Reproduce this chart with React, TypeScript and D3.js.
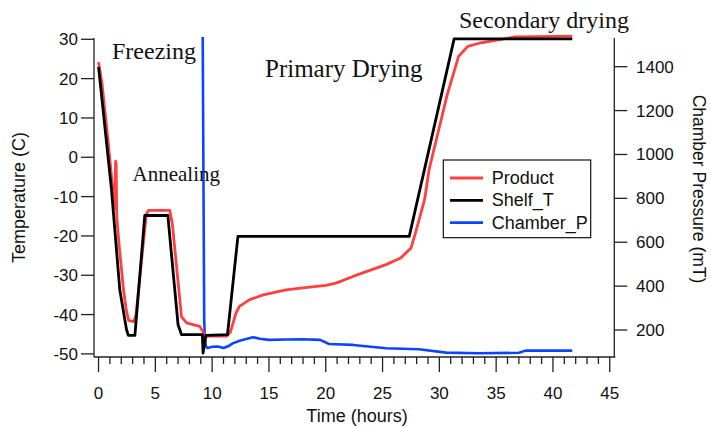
import React from "react";
import * as d3 from "d3";

// ---- data ----
const shelfTime = [0, 1.14, 1.87, 2.46, 2.62, 3.2, 4.07, 6.1, 7.0, 7.3, 9.14, 9.2, 9.45, 11.35, 12.27, 27.35, 31.3, 41.7];
const shelfTemp = [23, -8.2, -33.7, -43.8, -45.3, -45.3, -14.8, -14.8, -42.6, -45.1, -45.1, -49.8, -45.3, -45.1, -20.1, -20.1, 30.1, 30.1];

const productTime = [0, 0.3, 0.8, 1.28, 1.42, 1.5, 1.55, 1.6, 1.8, 2.2, 2.45, 2.65, 3.1, 3.3, 4.2, 4.4, 6.27, 6.5, 7.3, 7.75, 8.9, 9.35, 9.5, 11.3, 11.6, 12.1, 12.4, 13.3, 14.5, 16.5, 18, 20, 20.9, 22.4, 25.3, 26.6, 27.5, 27.9, 28.7, 29.1, 30.7, 31.7, 32.5, 33.5, 34.4, 36.7, 41.7];
const productTemp = [24.2, 18.9, 5.2, -9, -13, -1, -1.5, -15, -22, -33.7, -39, -41.5, -41.8, -40, -14.5, -13.5, -13.5, -17, -40.5, -42.1, -43, -45.1, -45.5, -45.5, -44.5, -39.6, -37.9, -36.2, -35, -33.7, -33.2, -32.6, -32, -30.3, -27.3, -25.6, -23.1, -19.2, -10.8, -3.1, 16, 25.7, 28.2, 29, 29.5, 30.6, 30.8];

const pressTime = [9.17, 9.3, 9.35, 9.45, 9.6, 10, 10.5, 11, 11.5, 11.8, 12.5, 13.6, 14.2, 15, 16.5, 18, 19.5, 20.3, 22.4, 25.3, 28.2, 30.6, 33.5, 37, 37.6, 41.7];
const pressVal = [1535, 250, 170, 125, 118, 124, 125, 118, 128, 139, 152, 167, 160, 155, 157, 158, 155, 136, 132, 117, 112, 97, 94, 96, 106, 106];

const xMajorTicks = [0, 5, 10, 15, 20, 25, 30, 35, 40, 45];
const leftTicks = [-50, -40, -30, -20, -10, 0, 10, 20, 30];
const rightTicks = [200, 400, 600, 800, 1000, 1200, 1400];

const seriesNames = ["Product", "Shelf_T", "Chamber_P"];
const seriesColors = ["#ff4040", "#000000", "#0a46ff"];

const annotations = [
  { text: "Freezing", x: 112, y: 59, size: 24 },
  { text: "Annealing", x: 132.5, y: 180.5, size: 21 },
  { text: "Primary Drying", x: 265, y: 77, size: 25 },
  { text: "Secondary drying", x: 459, y: 28, size: 24 },
];

export default function App() {
  const W = 711, H = 427;
  const left = 94, right = 614.3, top = 38, bottom = 357;
  const x = d3.scaleLinear().domain([-0.4, 45.4]).range([left, right]);
  const yL = d3.scaleLinear().domain([-50, 30]).range([353.9, 39.3]);
  const yR = d3.scaleLinear().domain([200, 1400]).range([330, 66.7]);

  const lineL = d3.line<[number, number]>().x((d) => x(d[0])).y((d) => yL(d[1]));
  const lineR = d3.line<[number, number]>().x((d) => x(d[0])).y((d) => yR(d[1]));

  const product = productTime.map((t, i) => [t, productTemp[i]] as [number, number]);
  const shelf = shelfTime.map((t, i) => [t, shelfTemp[i]] as [number, number]);
  const press = pressTime.map((t, i) => [t, pressVal[i]] as [number, number]);

  const minor = d3.range(0, 46, 1);
  const sans = "'Liberation Sans', Arial, sans-serif";
  const serif = "'Liberation Serif', 'Times New Roman', serif";

  return (
    <svg width={W} height={H} style={{ position: "absolute", left: 0, top: 0, background: "#fff" }}>
      {/* axes lines */}
      <g stroke="#222" strokeWidth={1.3} fill="none">
        <line x1={left} y1={top} x2={left} y2={bottom} />
        <line x1={right} y1={top} x2={right} y2={bottom} />
        <line x1={left} y1={bottom} x2={right + 1} y2={bottom} />
        {leftTicks.map((v) => (
          <line key={"lt" + v} x1={left - 13} x2={left} y1={yL(v)} y2={yL(v)} />
        ))}
        {rightTicks.map((v) => (
          <line key={"rt" + v} x1={right} x2={right + 13} y1={yR(v)} y2={yR(v)} />
        ))}
        {minor.map((v) => (
          <line key={"mt" + v} x1={x(v)} x2={x(v)} y1={bottom} y2={bottom + (v % 5 === 0 ? 15 : 7)} />
        ))}
      </g>
      <g fontFamily={sans} fontSize={17} fill="#111">
        {leftTicks.map((v) => (
          <text key={"ll" + v} x={78} y={yL(v) + 6} textAnchor="end">{v}</text>
        ))}
        {rightTicks.map((v) => (
          <text key={"rl" + v} x={636} y={yR(v) + 6}>{v}</text>
        ))}
        {xMajorTicks.map((v) => (
          <text key={"bl" + v} x={x(v)} y={399} textAnchor="middle">{v}</text>
        ))}
      </g>
      <g fontFamily={sans} fill="#111">
        <text x={357} y={422} textAnchor="middle" fontSize={18}>Time (hours)</text>
        <text transform="translate(25,197.5) rotate(-90)" textAnchor="middle" fontSize={18}>Temperature (C)</text>
        <text transform="translate(693,189) rotate(90)" textAnchor="middle" fontSize={17.5}>Chamber Pressure (mT)</text>
      </g>

      {/* series */}
      <path d={lineR(press) || ""} fill="none" stroke={seriesColors[2]} strokeWidth={2.6} strokeLinejoin="round" />
      <path d={lineL(product) || ""} fill="none" stroke={seriesColors[0]} strokeWidth={2.8} strokeLinejoin="round" />
      <path d={lineL(shelf) || ""} fill="none" stroke={seriesColors[1]} strokeWidth={2.8} strokeLinejoin="round" />

      {/* annotations */}
      <g fontFamily={serif} fill="#111">
        {annotations.map((a) => (
          <text key={a.text} x={a.x} y={a.y} fontSize={a.size}>{a.text}</text>
        ))}
      </g>

      {/* legend */}
      <g>
        <rect x={443.3} y={160} width={147.4} height={77.7} fill="#fff" stroke="#111" strokeWidth={1.2} />
        {seriesNames.map((n, i) => (
          <g key={n}>
            <line x1={450} x2={483} y1={178 + i * 22.3} y2={178 + i * 22.3} stroke={seriesColors[i]} strokeWidth={2.8} />
            <text x={491.7} y={178 + i * 22.3 + 6} fontFamily={sans} fontSize={18} fill="#111">{n}</text>
          </g>
        ))}
      </g>
    </svg>
  );
}
